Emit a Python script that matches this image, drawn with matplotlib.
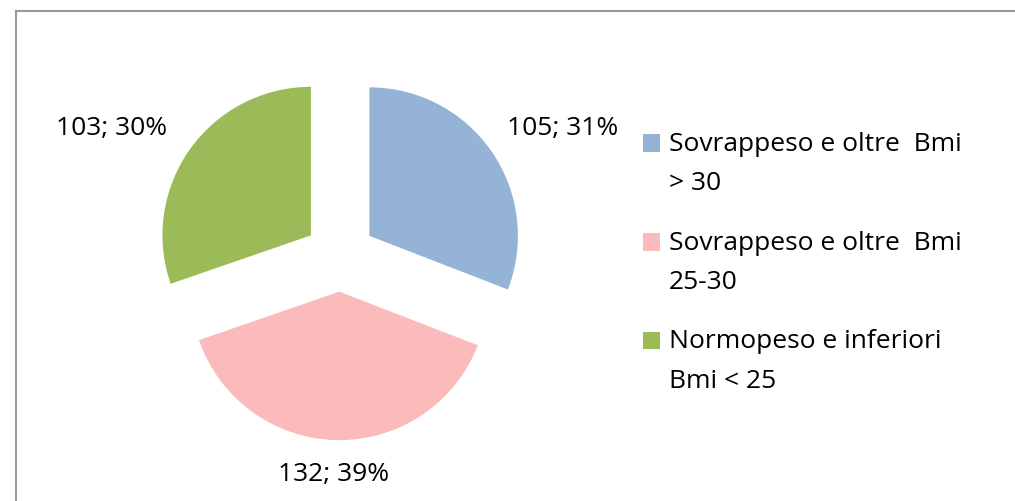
import matplotlib
matplotlib.use("Agg")
import matplotlib.pyplot as plt
from matplotlib.patches import Rectangle

### Data
categories = ["Sovrappeso e oltre  Bmi\n> 30",
              "Sovrappeso e oltre  Bmi\n25-30",
              "Normopeso e inferiori\nBmi < 25"]
counts = [105, 132, 103]
colors = ["#95B3D7", "#FCBBBB", "#9BBB59"]
# where the "n; p%" labels sit (pie radius = 1)
label_pos = [(1.50, 0.86), (-0.04, -1.47), (-1.54, 0.86)]
###

plt.rcParams['font.family'] = ['Open Sans', 'DejaVu Sans']
FS = 19

W, H = 1015, 501
fig = plt.figure(figsize=(W / 100, H / 100), dpi=100)

# pie center at (340, 256) px from top-left, radius 148.5 px
scale = 148.5
ax = fig.add_axes([0, 0, 680 / W, 1])
cx, cy = 340, 256

total = sum(counts)
labels = [f"{c}; {round(100 * c / total)}%" for c in counts]

wedges, texts = ax.pie(counts, colors=colors, labels=labels, startangle=90,
                       counterclock=False, explode=[0.24] * len(counts),
                       radius=1, textprops={'fontsize': FS, 'color': 'black'},
                       wedgeprops={'linewidth': 0})
for t, pos in zip(texts, label_pos):
    t.set_position(pos)
    t.set_ha('center')
    t.set_va('center')

ax.set_xlim(-cx / scale, (680 - cx) / scale)
ax.set_ylim(-(H - cy) / scale, cy / scale)
ax.set_aspect('auto')
ax.axis('off')

leg = ax.legend(wedges, categories, loc='upper left',
                bbox_to_anchor=(643 / W, 1 - 132 / H), bbox_transform=fig.transFigure,
                frameon=False, fontsize=FS, borderpad=0, borderaxespad=0,
                handlelength=0.65, handleheight=0.65, handletextpad=0.34,
                labelspacing=1.3)
for t in leg.get_texts():
    t.set_linespacing(1.76)
# square sits next to the first line, not the middle of the label
for p in leg.get_patches():
    p.set_y(p.get_y() + 15.4)

# chart area border (only top and left visible in the crop)
fig.add_artist(Rectangle((16 / W, -0.1), 2, 1 - 10.5 / H + 0.1,
                         transform=fig.transFigure, fill=False,
                         edgecolor='#9a9a9a', linewidth=1.5))

fig.savefig("out.png", dpi=100)
